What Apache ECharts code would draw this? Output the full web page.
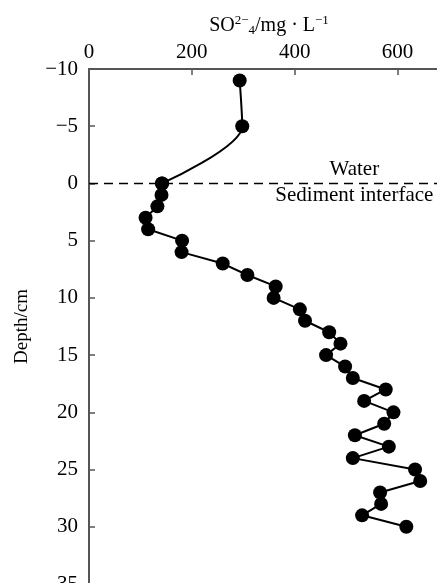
<!DOCTYPE html>
<html><head><meta charset="utf-8">
<script src="https://cdn.jsdelivr.net/npm/echarts@6/dist/echarts.min.js"></script>
<style>html,body{margin:0;padding:0;background:#fff}#c{width:437px;height:583px}</style>
</head><body><div id="c"></div>
<script>
// Depth (cm) and SO4^2- concentration (mg/L)
const depths = [-9, -5, 0, 1, 2, 3, 4, 5, 6, 7, 8, 9, 10, 11, 12, 13, 14, 15, 16, 17, 18, 19, 20, 21, 22, 23, 24, 25, 26, 27, 28, 29, 30];
const so4 =    [293, 298, 142, 141, 133, 110, 115, 181, 180, 260, 308, 363, 359, 410, 420, 467, 489, 461, 498, 513, 577, 535, 592, 574, 517, 583, 513, 634, 644, 566, 568, 531, 617];
const xTicks = [0, 200, 400, 600];
const yTicks = [-10, -5, 0, 5, 10, 15, 20, 25, 30, 35];
const waterLabel = 'Water';
const sedimentLabel = 'Sediment interface';
const labelX = 516;

const pts = so4.map((v, i) => [v, depths[i]]);
const upper = pts.slice(0, 3);   // water column, smooth curve
const lower = pts.slice(2);      // sediment profile

const font = 'Liberation Serif';
const axisCol = '#555';
const chart = echarts.init(document.getElementById('c'));
chart.setOption({
  animation: false,
  backgroundColor: '#fff',
  grid: { left: 89, top: 69, width: 360, height: 515, outerBoundsMode: 'none', containLabel: false },
  xAxis: {
    type: 'value', position: 'top', min: xTicks[0], max: 700, interval: 200,
    name: '{n|SO}{sup|2−}{sub|4}{n|/mg · L}{sup|−1}',
    nameLocation: 'middle', nameGap: 31,
    nameTextStyle: {
      rich: {
        n: { fontFamily: font, fontSize: 20, color: '#000' },
        sup: { fontFamily: font, fontSize: 13, color: '#000', verticalAlign: 'top', padding: [0,0,10,0] },
        sub: { fontFamily: font, fontSize: 13, color: '#000', verticalAlign: 'bottom', padding: [8,0,0,0] }
      }
    },
    axisLine: { onZero: false, lineStyle: { color: axisCol, width: 2 } },
    axisTick: { inside: true, length: 6, lineStyle: { color: axisCol, width: 1.5 } },
    axisLabel: { fontFamily: font, fontSize: 21, color: '#000', margin: 6, showMaxLabel: false },
    splitLine: { show: false }
  },
  yAxis: {
    type: 'value', inverse: true, min: yTicks[0], max: yTicks[yTicks.length - 1], interval: 5,
    name: 'Depth/cm', nameLocation: 'middle', nameGap: 57,
    nameTextStyle: { fontFamily: font, fontSize: 19, color: '#000' },
    axisLine: { onZero: false, lineStyle: { color: axisCol, width: 2 } },
    axisTick: { inside: true, length: 6, lineStyle: { color: axisCol, width: 1.5 } },
    axisLabel: { fontFamily: font, fontSize: 21, color: '#000', margin: 11,
      formatter: v => (v < 0 ? '\u2212' + Math.abs(v) : String(v)) },
    splitLine: { show: false }
  },
  series: [
    {
      type: 'line', data: upper, smooth: 0.3, symbol: 'circle', symbolSize: 14,
      itemStyle: { color: '#000' }, lineStyle: { color: '#000', width: 2 }, z: 3
    },
    {
      type: 'line', data: lower, smooth: false, symbol: 'circle', symbolSize: 14,
      itemStyle: { color: '#000' }, lineStyle: { color: '#000', width: 2 }, z: 3,
      markLine: {
        silent: true, symbol: 'none',
        lineStyle: { color: '#000', width: 1.3, type: [9, 6] },
        label: { show: false },
        data: [{ yAxis: 0 }]
      },
      markPoint: {
        silent: true, symbol: 'circle', symbolSize: 0,
        data: [
          { coord: [labelX, 0], label: { show: true, formatter: waterLabel, offset: [0, -14], fontFamily: font, fontSize: 21, color: '#000' } },
          { coord: [labelX, 0], label: { show: true, formatter: sedimentLabel, offset: [0, 12], fontFamily: font, fontSize: 21, color: '#000' } }
        ]
      }
    }
  ]
});
</script></body></html>
